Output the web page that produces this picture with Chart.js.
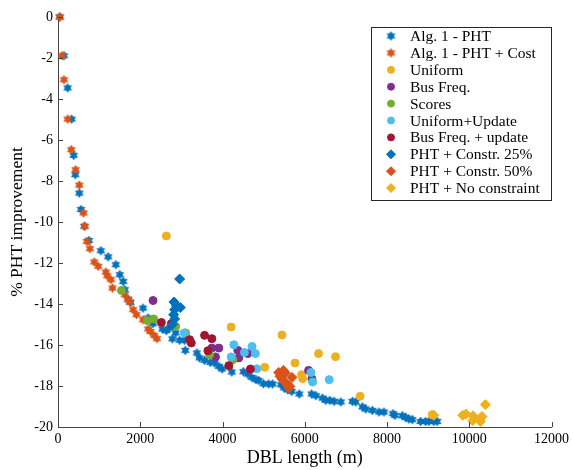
<!DOCTYPE html>
<html>
<head>
<meta charset="utf-8">
<script src="https://cdn.jsdelivr.net/npm/chart.js@4.4.1/dist/chart.umd.min.js"></script>
<style>
  html, body { margin: 0; padding: 0; background: #fff; }
  #wrap { width: 573px; height: 470px; }
</style>
</head>
<body>
<div id="wrap"><canvas id="c" width="573" height="470"></canvas></div>
<script>
// Axis ticks
const xTicks = [0, 2000, 4000, 6000, 8000, 10000, 12000];
const yTicks = [0, -2, -4, -6, -8, -10, -12, -14, -16, -18, -20];

// Alg. 1 - PHT
const algPhtX = [40, 145, 235, 332, 380, 420, 517, 558, 639, 752, 1042, 1220, 1406, 1503, 1584, 1624, 1705, 1762, 2068, 2190, 2311, 2538, 2634, 2715, 2780, 2861, 2958, 3079, 3095, 3378, 3442, 3564, 3701, 3806, 3911, 3992, 4226, 4509, 4614, 4711, 4816, 4881, 4994, 5123, 5220, 5422, 5503, 5584, 5681, 5867, 6166, 6271, 6432, 6513, 6610, 6715, 6877, 7159, 7240, 7402, 7483, 7644, 7806, 7927, 8145, 8194, 8372, 8453, 8533, 8614, 8816, 8937, 9018, 9139, 9220];
const algPhtY = [0, -1.89, -3.46, -4.98, -6.75, -7.69, -8.59, -9.39, -10.21, -10.9, -11.4, -11.7, -12.08, -12.57, -12.9, -13.3, -13.76, -13.92, -14.2, -14.68, -14.96, -15.22, -15.3, -15.17, -15.7, -15.41, -15.77, -15.77, -16.26, -16.39, -16.63, -16.75, -16.85, -16.88, -17.04, -17.17, -17.32, -17.3, -17.42, -17.58, -17.69, -17.73, -17.89, -17.9, -17.9, -17.94, -18.1, -18.18, -18.26, -18.39, -18.39, -18.47, -18.59, -18.7, -18.7, -18.75, -18.78, -18.75, -18.78, -19.02, -19.12, -19.19, -19.27, -19.27, -19.35, -19.43, -19.45, -19.53, -19.61, -19.64, -19.73, -19.73, -19.73, -19.73, -19.73];

// Alg. 1 - PHT + Cost
const algCostX = [48, 97, 145, 235, 323, 428, 517, 622, 655, 703, 776, 881, 978, 1164, 1196, 1285, 1325, 1624, 1705, 1745, 1826, 1907, 2068, 2190, 2246, 2335, 2408];
const algCostY = [0, -1.89, -3.06, -4.98, -6.47, -7.45, -8.2, -9.56, -10.21, -10.95, -11.3, -11.95, -12.16, -12.44, -12.62, -12.81, -13.22, -13.55, -13.79, -13.9, -14.28, -14.52, -14.77, -15.22, -15.34, -15.53, -15.69];

// Uniform
const uniformX = [2634, 4210, 5446, 6335, 6748, 5762, 5026, 5923, 5948, 7345, 9100];
const uniformY = [-10.68, -15.12, -15.51, -16.42, -16.57, -16.88, -17.09, -17.45, -17.64, -18.5, -19.4];

// Bus Freq.
const busFreqX = [2311, 3741, 3911, 3830, 4372, 4396, 4614, 6093, 6174];
const busFreqY = [-13.83, -16.15, -16.15, -16.58, -16.26, -16.63, -16.42, -17.24, -17.66];

// Scores
const scoresX = [1543, 2174, 2327, 2861, 3103, 3685, 4250];
const scoresY = [-13.34, -14.81, -14.73, -15.09, -15.41, -16.47, -16.72];

// Uniform+Update
const uniUpdX = [3071, 4275, 4210, 4533, 4719, 4800, 4832, 6150, 6190, 6594];
const uniUpdY = [-15.41, -15.99, -16.58, -16.36, -16.07, -16.42, -17.16, -17.34, -17.8, -17.69];

// Bus Freq. + update
const busUpdX = [2513, 2756, 3200, 3240, 3564, 3741, 3644, 4153, 4679];
const busUpdY = [-14.9, -14.96, -15.74, -15.9, -15.53, -15.69, -16.28, -17.01, -17.17];

// PHT + Constr. 25%
const constr25X = [2958, 2820, 2877, 2974, 2836, 2812, 2836, 2780];
const constr25Y = [-12.78, -13.9, -14.08, -14.17, -14.28, -14.52, -14.73, -15.0];

// PHT + Constr. 50%
const constr50X = [5366, 5398, 5479, 5527, 5446, 5503, 5584, 5640, 5689, 5608];
const constr50Y = [-17.34, -17.53, -17.24, -17.37, -17.66, -17.78, -17.94, -18.02, -17.58, -18.1];

// PHT + No constraint
const noConstrX = [9139, 9842, 9923, 10093, 10085, 10271, 10311, 10271, 10392];
const noConstrY = [-19.43, -19.43, -19.37, -19.45, -19.69, -19.57, -19.49, -19.73, -18.91];

const seriesNames = ['Alg. 1 - PHT', 'Alg. 1 - PHT + Cost', 'Uniform', 'Bus Freq.', 'Scores',
  'Uniform+Update', 'Bus Freq. + update', 'PHT + Constr. 25%', 'PHT + Constr. 50%', 'PHT + No constraint'];

const BLUE = '#0072BD', ORANGE = '#D95319', YELLOW = '#EDB120', PURPLE = '#7E2F8E',
      GREEN = '#77AC30', CYAN = '#4DBEEE', DARKRED = '#A2142F';

const SERIF = '"Liberation Serif", "DejaVu Serif", serif';

// Six-pointed filled star used as a point style
function hexagram(color, r) {
  const s = Math.ceil(2 * r + 2);
  const cv = document.createElement('canvas');
  cv.width = s; cv.height = s;
  const g = cv.getContext('2d');
  const c = s / 2, ri = r / Math.sqrt(3);
  g.beginPath();
  for (let k = 0; k < 12; k++) {
    const a = -Math.PI / 2 + k * Math.PI / 6;
    const rr = k % 2 === 0 ? r : ri;
    const px = c + rr * Math.cos(a), py = c + rr * Math.sin(a);
    if (k === 0) g.moveTo(px, py); else g.lineTo(px, py);
  }
  g.closePath();
  g.fillStyle = color; g.fill();
  g.lineWidth = 0.8; g.strokeStyle = color; g.stroke();
  return cv;
}

const pts = (xs, ys) => xs.map((x, i) => ({ x: x, y: ys[i] }));

const seriesData = [
  [algPhtX, algPhtY], [algCostX, algCostY], [uniformX, uniformY], [busFreqX, busFreqY],
  [scoresX, scoresY], [uniUpdX, uniUpdY], [busUpdX, busUpdY], [constr25X, constr25Y],
  [constr50X, constr50Y], [noConstrX, noConstrY]
];
const seriesStyle = [
  { color: BLUE, style: hexagram(BLUE, 4.4), r: 4 },
  { color: ORANGE, style: hexagram(ORANGE, 4.4), r: 4 },
  { color: YELLOW, style: 'circle', r: 4 },
  { color: PURPLE, style: 'circle', r: 4 },
  { color: GREEN, style: 'circle', r: 4 },
  { color: CYAN, style: 'circle', r: 4 },
  { color: DARKRED, style: 'circle', r: 4 },
  { color: BLUE, style: 'rectRot', r: 5 },
  { color: ORANGE, style: 'rectRot', r: 5 },
  { color: YELLOW, style: 'rectRot', r: 5 }
];

const datasets = seriesData.map((d, i) => ({
  label: seriesNames[i],
  data: pts(d[0], d[1]),
  pointStyle: seriesStyle[i].style,
  pointRadius: seriesStyle[i].r,
  pointBackgroundColor: seriesStyle[i].color,
  pointBorderColor: seriesStyle[i].color,
  pointBorderWidth: 1,
  showLine: false,
  clip: false,
  order: 20 - i
}));

// Inward tick marks on the left and bottom axes
const innerTicks = {
  id: 'innerTicks',
  afterDraw(chart) {
    const ctx = chart.ctx, xs = chart.scales.x, ys = chart.scales.y;
    const area = chart.chartArea;
    ctx.save();
    ctx.strokeStyle = '#444';
    ctx.lineWidth = 1;
    ctx.beginPath();
    xs.ticks.forEach(t => {
      const px = Math.round(xs.getPixelForValue(t.value)) + 0.5;
      ctx.moveTo(px, area.bottom); ctx.lineTo(px, area.bottom - 5);
    });
    ys.ticks.forEach(t => {
      const py = Math.round(ys.getPixelForValue(t.value)) + 0.5;
      ctx.moveTo(area.left, py); ctx.lineTo(area.left + 5, py);
    });
    ctx.stroke();
    ctx.restore();
  }
};

// Boxed legend inside the plot area
const boxLegend = {
  id: 'boxLegend',
  afterDraw(chart) {
    const ctx = chart.ctx;
    const left = 371, top = 27, right = 551, bottom = 200;
    ctx.save();
    ctx.fillStyle = '#fff';
    ctx.fillRect(left, top, right - left, bottom - top);
    ctx.strokeStyle = '#262626';
    ctx.lineWidth = 1;
    ctx.strokeRect(left + 0.5, top + 0.5, right - left, bottom - top);
    ctx.font = '15.5px ' + SERIF;
    ctx.textBaseline = 'middle';
    ctx.textAlign = 'left';
    chart.data.datasets.forEach((ds, i) => {
      const y = 36 + i * 16.9;
      ctx.fillStyle = seriesStyle[i].color;
      ctx.strokeStyle = seriesStyle[i].color;
      ctx.lineWidth = 1;
      Chart.helpers.drawPoint(ctx, {
        pointStyle: seriesStyle[i].style,
        radius: seriesStyle[i].r - 0.5,
        rotation: 0,
        borderWidth: 1
      }, 391, y);
      ctx.fillStyle = '#000';
      ctx.fillText(ds.label, 410, y + 1);
    });
    ctx.restore();
  }
};

new Chart(document.getElementById('c'), {
  type: 'scatter',
  data: { datasets: datasets },
  plugins: [innerTicks, boxLegend],
  options: {
    responsive: false,
    animation: false,
    layout: { padding: { top: 17, right: 20, left: 0, bottom: 0 } },
    plugins: { legend: { display: false }, tooltip: { enabled: false } },
    scales: {
      x: {
        type: 'linear', min: 0, max: 12000,
        afterBuildTicks: s => { s.ticks = xTicks.map(v => ({ value: v })); },
        afterFit: s => { s.height = 43; },
        ticks: { color: '#000', padding: 4, maxRotation: 0, font: { family: SERIF, size: 14 },
                 callback: v => String(v) },
        grid: { display: true, drawOnChartArea: false, drawTicks: false },
        border: { display: true, color: '#444', width: 1 },
        title: { display: true, text: 'DBL length (m)', color: '#000',
                 font: { family: SERIF, size: 18 }, padding: { top: 0, bottom: 1 } }
      },
      y: {
        type: 'linear', min: -20, max: 0,
        afterBuildTicks: s => { s.ticks = yTicks.map(v => ({ value: v })); },
        afterFit: s => { s.width = 58; },
        ticks: { color: '#000', padding: 5, font: { family: SERIF, size: 14 },
                 callback: v => String(v) },
        grid: { display: true, drawOnChartArea: false, drawTicks: false },
        border: { display: true, color: '#444', width: 1 },
        title: { display: true, text: '% PHT improvement', color: '#000',
                 font: { family: SERIF, size: 17.5 }, padding: { top: 7, bottom: 0 } }
      }
    }
  }
});
</script>
</body>
</html>
